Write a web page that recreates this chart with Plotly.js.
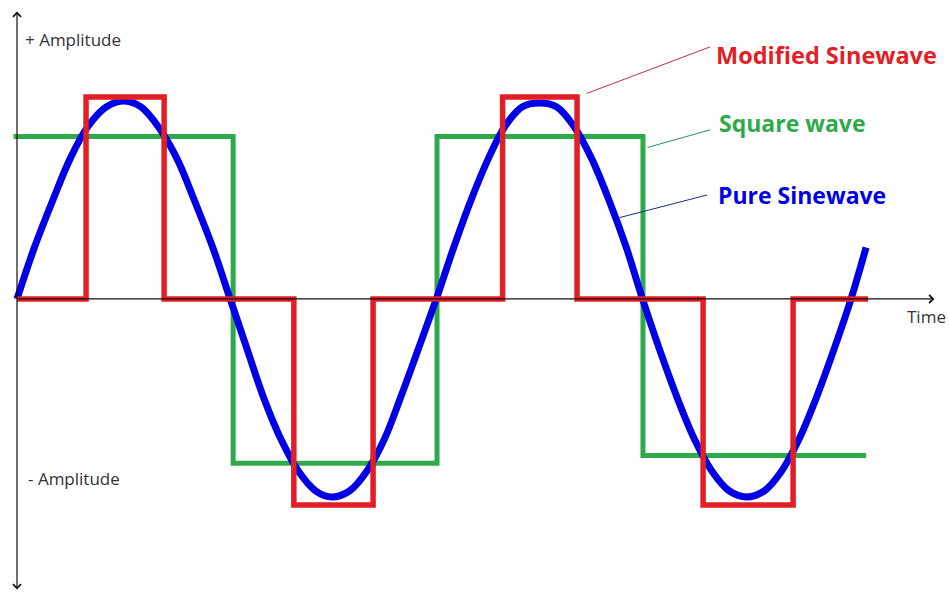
<!DOCTYPE html>
<html>
<head>
<meta charset="utf-8">
<script src="https://cdn.plot.ly/plotly-3.0.1.min.js"></script>
<style>html,body{margin:0;padding:0;background:#fff;}#chart{width:949px;height:592px;}</style>
</head>
<body>
<div id="chart"></div>
<script>
// Time in degrees of phase, amplitude in units of the pure sine peak
const pureX = [0, 15, 31, 46, 61, 77, 93, 107, 122, 138, 153, 169, 184,
  199, 213, 228, 243, 258, 272, 287, 302, 317, 331, 346, 362,
  377, 392, 407, 421, 436, 451, 466, 481, 496, 511, 526, 540,
  555, 570, 585, 600, 615, 630, 645, 660, 675, 690, 705, 720, 733];
const pureY = [0, 0.26, 0.5, 0.71, 0.87, 0.97, 1.0, 0.97, 0.87, 0.71, 0.5, 0.26, 0,
  -0.26, -0.5, -0.71, -0.87, -0.97, -1.0, -0.97, -0.87, -0.71, -0.5, -0.26, 0,
  0.26, 0.5, 0.71, 0.87, 0.97, 0.99, 0.97, 0.87, 0.71, 0.5, 0.26, 0,
  -0.26, -0.5, -0.71, -0.87, -0.97, -1.0, -0.97, -0.87, -0.71, -0.5, -0.26, 0, 0.26];

const squareX = [-3, 186.6, 186.6, 362.6, 362.6, 540.4, 540.4, 733];
const squareY = [0.82, 0.82, -0.83, -0.83, 0.82, 0.82, -0.79, -0.79];

const modX = [0, 59.6, 59.6, 127, 127, 239, 239, 307.4, 307.4, 419.2, 419.2, 483.5, 483.5, 592.3, 592.3, 670, 670, 734.7];
const modY = [0, 0, 1.02, 1.02, 0, 0, -1.04, -1.04, 0, 0, 1.02, 1.02, 0, 0, -1.04, -1.04, 0, 0];

const labels = ["Modified Sinewave", "Square wave", "Pure Sinewave"];
const labelColors = ["#e31e26", "#2eaa4a", "#0000e6"];

const traces = [
  {x: squareX, y: squareY, mode: 'lines', line: {color: '#2eaa4a', width: 5}, hoverinfo: 'skip'},
  {x: pureX, y: pureY, mode: 'lines', line: {color: '#0000e6', width: 7, shape: 'spline', smoothing: 1}, hoverinfo: 'skip'},
  {x: modX, y: modY, mode: 'lines', line: {color: '#e31e26', width: 5.5}, hoverinfo: 'skip'}
];

const axisColor = '#111';
const labelFont = '"Open Sans", Lato, sans-serif';
const annotations = [
  // vertical axis with arrows both ends
  {x: 0, y: 1.452, ax: 0, ay: -1.475, xref: 'x', yref: 'y', axref: 'x', ayref: 'y', text: '',
   showarrow: true, arrowhead: 4, startarrowhead: 4, arrowside: 'end+start', arrowsize: 1.3, startarrowsize: 1.3, arrowwidth: 1.2, arrowcolor: axisColor},
  // horizontal axis
  {x: 792, y: 0, ax: 0, ay: 0, xref: 'x', yref: 'y', axref: 'x', ayref: 'y', text: '',
   showarrow: true, arrowhead: 4, arrowsize: 1.3, arrowwidth: 1.2, arrowcolor: axisColor},
  // leader lines
  {x: 598.3, y: 1.273, ax: 490.4, ay: 1.035, xref: 'x', yref: 'y', axref: 'x', ayref: 'y', text: '',
   showarrow: true, arrowhead: 0, arrowwidth: 1, arrowcolor: '#c0304a'},
  {x: 598.3, y: 0.854, ax: 543, ay: 0.763, xref: 'x', yref: 'y', axref: 'x', ayref: 'y', text: '',
   showarrow: true, arrowhead: 0, arrowwidth: 1, arrowcolor: '#2f8a6a'},
  {x: 595.7, y: 0.525, ax: 518.9, ay: 0.409, xref: 'x', yref: 'y', axref: 'x', ayref: 'y', text: '',
   showarrow: true, arrowhead: 0, arrowwidth: 1, arrowcolor: '#1a2a8a'},
  // labels
  {x: 601.5, y: 1.232, xref: 'x', yref: 'y', xanchor: 'left', yanchor: 'middle', showarrow: false,
   text: '<b>' + labels[0] + '</b>', font: {family: labelFont, size: 23.5, color: labelColors[0]}},
  {x: 604, y: 0.89, xref: 'x', yref: 'y', xanchor: 'left', yanchor: 'middle', showarrow: false,
   text: '<b>' + labels[1] + '</b>', font: {family: labelFont, size: 23, color: labelColors[1]}},
  {x: 603.5, y: 0.525, xref: 'x', yref: 'y', xanchor: 'left', yanchor: 'middle', showarrow: false,
   text: '<b>' + labels[2] + '</b>', font: {family: labelFont, size: 23, color: labelColors[2]}},
  {x: 5.5, y: 1.308, xref: 'x', yref: 'y', xanchor: 'left', yanchor: 'middle', showarrow: false,
   text: '+ Amplitude', font: {family: labelFont, size: 17, color: '#333'}},
  {x: 7.5, y: -0.909, xref: 'x', yref: 'y', xanchor: 'left', yanchor: 'middle', showarrow: false,
   text: '- Amplitude', font: {family: labelFont, size: 17, color: '#333'}},
  {x: 767, y: -0.086, xref: 'x', yref: 'y', xanchor: 'left', yanchor: 'middle', showarrow: false,
   text: 'Time', font: {family: labelFont, size: 17, color: '#333'}}
];

const layout = {
  width: 949, height: 592,
  margin: {l: 0, r: 0, t: 0, b: 0},
  paper_bgcolor: '#fff', plot_bgcolor: '#fff',
  showlegend: false,
  xaxis: {range: [-14.68, 804.6], visible: false, showgrid: false, zeroline: false, fixedrange: true},
  yaxis: {range: [-1.480, 1.510], visible: false, showgrid: false, zeroline: false, fixedrange: true},
  annotations: annotations
};

Plotly.newPlot('chart', traces, layout, {staticPlot: true, displayModeBar: false});
</script>
</body>
</html>
